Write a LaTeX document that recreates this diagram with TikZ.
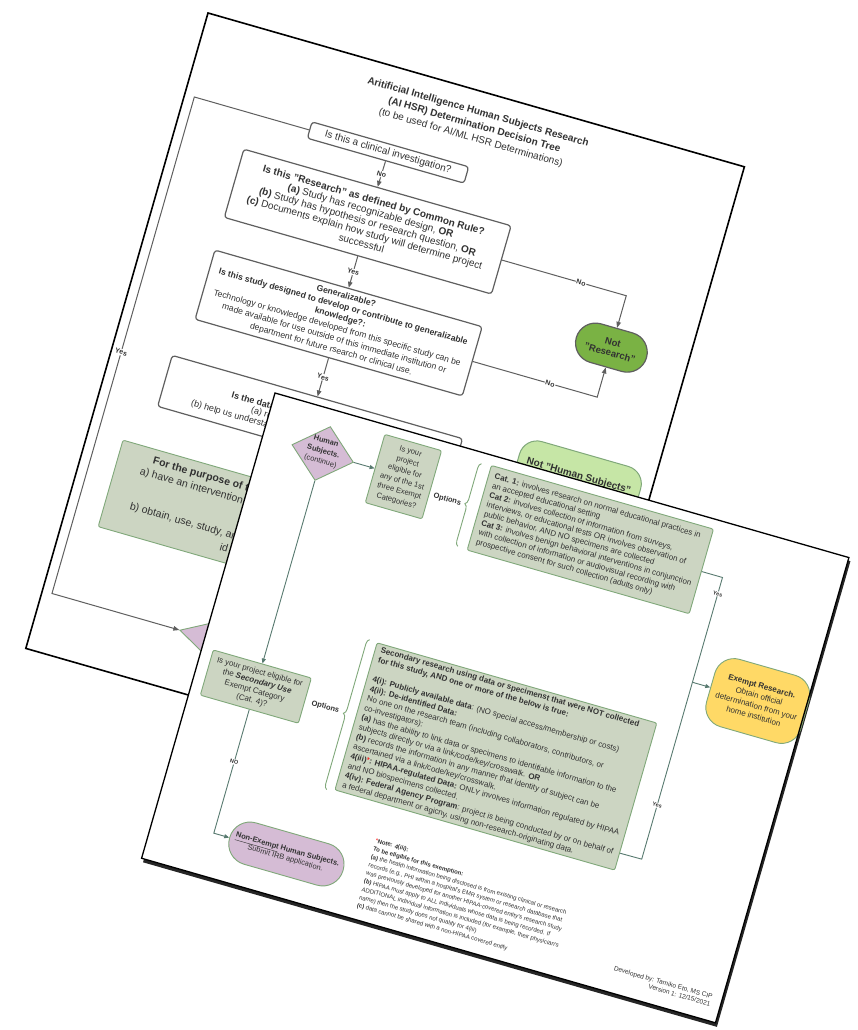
\documentclass[tikz,border=0pt]{standalone}
\usepackage{fontspec}
\setmainfont{Liberation Sans}
\usetikzlibrary{arrows.meta,decorations.pathreplacing,shapes.geometric,calc}
\definecolor{gfill}{RGB}{204,213,194}
\definecolor{gdraw}{RGB}{128,168,122}
\definecolor{pfill}{RGB}{213,188,213}
\definecolor{yfill}{RGB}{255,217,102}
\definecolor{nrfill}{RGB}{122,178,68}
\definecolor{nhfill}{RGB}{198,230,166}
\definecolor{fline}{RGB}{88,122,112}
\definecolor{txt}{RGB}{50,50,50}
\definecolor{bline}{RGB}{95,95,95}
\begin{document}
\begin{tikzpicture}[x=1pt,y=-1pt,
  bbox/.style={draw=bline, line width=1.2pt, rounded corners=3pt, fill=white, align=center, inner sep=0pt, text=txt},
  barrow/.style={draw=bline, line width=1pt, -{Triangle[length=6pt,width=4.5pt]}},
  blbl/.style={fill=white, inner sep=0.8pt, text=txt, font=\bfseries\fontsize{7}{8}\selectfont},
  gbox/.style={draw=gdraw, line width=0.9pt, fill=gfill, rounded corners=2pt, inner sep=0pt, text=txt},
  farrow/.style={draw=fline, line width=0.9pt, -{Triangle[length=5pt,width=4pt]}},
  fplain/.style={draw=fline, line width=0.9pt},
  flbl/.style={fill=white, inner sep=0.6pt, text=txt, font=\bfseries\fontsize{5.5}{6}\selectfont},
  fbrace/.style={draw=gdraw, line width=0.9pt, decorate, decoration={brace, amplitude=5pt}},
  ptext/.style={text=txt, inner sep=0pt},
]
\useasboundingbox (0,0) rectangle (858,1030);
\fill[white] (0,0) rectangle (858,1030);

% ---------------- back page ----------------
\begin{scope}[shift={(208,13)}, rotate=-16, transform shape]
\draw[line width=1.6pt, fill=white] (0,0) rectangle (558,661);
\node[ptext, align=center, font=\fontsize{10}{13.3}\selectfont] (title) at (287,34.5)
  {\textbf{Aritificial Intelligence Human Subjects Research}\\\textbf{(AI HSR) Determination Decision Tree}\\(to be used for AI/ML HSR Determinations)};
\node[bbox, minimum width=163pt, minimum height=17pt, font=\fontsize{10}{12}\selectfont] (clin) at (211.5,84.5) {Is this a clinical investigation?};
\node[bbox, minimum width=278pt, minimum height=71pt, font=\fontsize{10}{11.2}\selectfont] (res) at (211,156.5)
  {\textbf{Is this "Research" as defined by Common Rule?}\\ \textbf{(a)} Study has recognizable design, \textbf{OR}\\ \textbf{(b)} Study has hypothesis or research question, \textbf{OR}\\ \textbf{(c)} Documents explain how study will determine project\\ successful};
\node[bbox, minimum width=278pt, minimum height=72pt, font=\fontsize{8.6}{11}\selectfont] (gen) at (211,262)
  {\textbf{Generalizable?}\\ \textbf{Is this study designed to develop or contribute to generalizable}\\ \textbf{knowledge?:}\\ Technology or knowledge developed from this specific study can be\\ made available for use outside of this immediate institution or\\ department for future rsearch or clinical use.};
\node[bbox, minimum width=302pt, minimum height=53pt] (data) at (211,365.5) {};
\node[ptext, anchor=west, font=\bfseries\fontsize{9}{10}\selectfont] (dt1) at (128,360) {Is the data};
\node[ptext, anchor=west, font=\fontsize{9}{10}\selectfont] (dt2) at (151,370) {(a) re};
\node[ptext, anchor=west, font=\fontsize{9}{10}\selectfont] (dt3) at (91.4,380) {(b) help us understa};

\node[gbox, minimum width=350pt, minimum height=90pt] (purp) at (211,479) {};
\node[ptext, anchor=west, font=\bfseries\fontsize{10.5}{12}\selectfont] (pt1) at (70.6,446) {For the purpose of th};
\node[ptext, anchor=west, font=\fontsize{10.5}{12}\selectfont] (pt2) at (61,459.6) {a) have an intervention o};
\node[ptext, anchor=west, font=\fontsize{10.5}{12}\selectfont] (pt3) at (61,496) {b) obtain, use, study, an};
\node[ptext, anchor=west, font=\fontsize{10.5}{12}\selectfont] (pt4) at (158.6,509.7) {id};

\node[diamond, draw=gdraw, line width=0.9pt, fill=pfill, minimum width=80pt, minimum height=44pt, inner sep=0pt] (bd) at (183,601) {};

\draw[barrow] (clin.south) -- (res.north) node[blbl, midway] {No};
\draw[barrow] (res.south) -- (gen.north) node[blbl, midway] {Yes};
\draw[barrow] (gen.south) -- (data.north) node[blbl, midway] {Yes};

\coordinate (c1) at (10,84.5);
\coordinate (c2) at (10,601);
\draw[barrow] (clin.west) -- (c1) -- (c2) -- (bd.west);
\node[blbl] (ly) at (10,350) {Yes};

\node[draw=bline, line width=1.2pt, fill=nrfill, rounded corners=20pt, minimum width=73pt, minimum height=40pt, align=center, font=\bfseries\fontsize{9.5}{11}\selectfont, text=txt] (nr) at (480,210.5) {Not\\"Research"};
\coordinate (c3) at (480,156.5);
\coordinate (c4) at (480,262);
\draw[barrow] (res.east) -- (c3) -- (nr.north);
\draw[barrow] (gen.east) -- (c4) -- (nr.south);
\node[blbl] (n1) at (433,156.5) {No};
\node[blbl] (n2) at (431,262) {No};

\node[draw=gdraw, line width=1pt, fill=nhfill, rounded corners=18pt, minimum width=126pt, minimum height=46pt, font=\bfseries\fontsize{10}{12}\selectfont, text=txt] (nh) at (484,343) {Not "Human Subjects"};
\end{scope}

% ---------------- front page ----------------
\begin{scope}[shift={(275,393)}, rotate=-16, transform shape]
\fill[black!85] (2.5,3) rectangle (599.5,487.5);
\fill[white] (0,0) rectangle (597,484);

\node[diamond, draw=gdraw, line width=0.9pt, fill=pfill, minimum width=64pt, minimum height=56pt, inner sep=0pt] (hs) at (62.5,45) {};
\node[ptext, align=center, font=\fontsize{7.5}{10.4}\selectfont] (hst) at (62.5,43) {\textbf{Human}\\\textbf{Subjects.}\\(continue)};

\node[gbox, minimum width=59pt, minimum height=71pt, align=center, font=\fontsize{7.6}{10.3}\selectfont] (b1) at (146.5,45) {Is your\\project\\eligible for\\any of the 1st\\three Exempt\\Categories?};
\draw[farrow] (hs.east) -- (b1.west);

\node[ptext, font=\bfseries\fontsize{7.5}{9}\selectfont] (op1) at (195,55) {Options};
\draw[fbrace] (218,97) -- (218,11);

\node[gbox, minimum width=231pt, minimum height=88pt, align=left, font=\fontsize{8}{9.7}\selectfont] (cat) at (343.5,54)
  {\textbf{Cat. 1:} involves research on normal educational practices in\\ an accepted educational setting\\ \textbf{Cat 2:} involves collection of information from surveys,\\ interviews, or educational tests OR involves observation of\\ public behavior, AND NO specimens are collected\\ \textbf{Cat 3:} involves benign behavioral interventions in conjunction\\ with collection of information or audiovisual recording with\\ prospective consent for such collection (adults only)};

\node[draw=gdraw, line width=0.9pt, fill=yfill, rounded corners=20pt, minimum width=98pt, minimum height=70pt, align=center, text=txt, font=\fontsize{8}{10.4}\selectfont] (ex) at (549,163) {\textbf{Exempt Research.}\\Obtain official\\determination from your\\home institution};

\node[gbox, minimum width=291pt, minimum height=153pt, align=left, font=\fontsize{8}{10}\selectfont] (sec) at (312.5,288.5)
  {\textbf{Secondary research using data or specimenst that were NOT collected}\\
   \textbf{for this study, AND one or more of the below is true:}\\[10pt]
   \textbf{4(i): Publicly available data}: (NO special access/membership or costs)\\
   \textbf{4(ii): De-identified Data:}\\
   No one on the research team (including collaborators, contributors, or\\
   co-investigators):\\
   \textbf{(a)} has the ability to link data or specimens to identifiable information to the\\
   subjects directly or via a link/code/key/crosswalk. \textbf{OR}\\
   \textbf{(b)} records the information in any manner that identity of subject can be\\
   ascertained via a link/code/key/crosswalk.\\
   \textbf{4(iii)}{\color{red}*}\textbf{: HIPAA-regulated Data:} ONLY involves information regulated by HIPAA\\
   and NO biospecimens collected.\\
   \textbf{4(iv): Federal Agency Program}: project is being conducted by or on behalf of\\
   a federal department or agicny, using non-research-originating data.};

\coordinate (j1) at (481,54);
\coordinate (j2) at (481,163);
\coordinate (j3) at (481,347);
\draw[fplain] (cat.east) -- (j1) -- (j2);
\draw[farrow] (j2) -- (ex.west);
\draw[fplain] ($(sec.south east)!0.118!(sec.north east)$) -- (j3) -- (j2);
\node[flbl] (y1) at (481,71) {Yes};
\node[flbl] (y2) at (481,291) {Yes};

\node[gbox, minimum width=102pt, minimum height=47pt, align=center, font=\fontsize{8}{9.8}\selectfont] (cq) at (62.5,287.5) {Is your project eligible for\\the \textbf{\textit{Secondary Use}}\\Exempt Category\\(Cat. 4)?};
\draw[farrow] (hs.south) -- (cq.north);
\node[ptext, font=\bfseries\fontsize{7.5}{9}\selectfont] (op2) at (135,288) {Options};
\draw[fbrace] (159,367) -- (159,211);

\node[draw=gdraw, line width=0.9pt, fill=pfill, rounded corners=21pt, minimum width=118pt, minimum height=43pt, align=center, text=txt, font=\fontsize{7.5}{9}\selectfont] (nx) at (138,440) {\textbf{\underline{Non-Exempt} Human Subjects.}\\Submit IRB application.};
\coordinate (j4) at (62.5,440);
\draw[farrow] (cq.south) -- (j4) -- (nx.west);
\node[flbl] (no) at (62.5,366) {NO};

\node[ptext, anchor=north west, align=left, font=\fontsize{6}{8.4}\selectfont] (note) at (220,400)
  {{\color{red}*}\textbf{Note: 4(iii):}\\ \textbf{To be eligible for this exemption:}\\ \textbf{(a)} the  health information being disclosed is from existing clinical or research\\ records (e.g., PHI within a hospital's EMR system or research database that\\ was previously developed for another HIPAA-covered entity's research study\\ \textbf{(b)} HIPAA must apply to ALL individuals whose  data is being recorded. If\\ ADDITIONAL individual information is included (for example, their physician's\\ name) then the study does not qualify for 4(iii)\\ \textbf{(c)} data cannot be shared with a non-HIPAA covered entity};

\node[ptext, anchor=north east, align=right, font=\fontsize{6.5}{8}\selectfont] (dev) at (587,457) {Developed by: Tamiko Eto, MS CIP\\Version 1: 12/15/2021};

\draw[line width=1.3pt] (0,0) rectangle (597,484);
\end{scope}
\end{tikzpicture}
\end{document}
